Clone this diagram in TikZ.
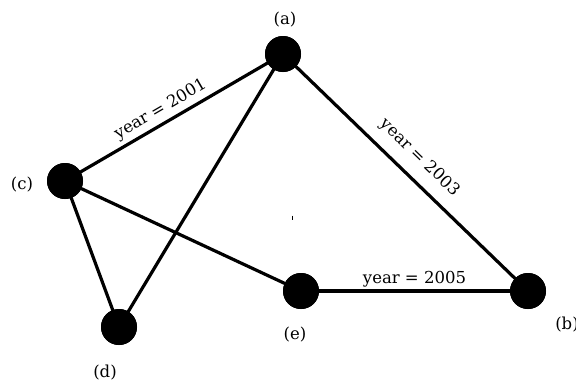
\documentclass[tikz,border=0pt]{standalone}
\usepackage{fontspec}
\setmainfont{DejaVu Serif}
\begin{document}
\begin{tikzpicture}[x=1pt,y=-1pt,
  vtx/.style={circle,fill=black,minimum size=36pt,inner sep=0pt},
  edge/.style={line width=3.2pt},
  lbl/.style={font=\fontsize{16.5}{19}\selectfont,inner sep=0pt},
  elbl/.style={font=\fontsize{16.5}{19}\selectfont,sloped,above}]
\useasboundingbox (0,0) rectangle (576,383);
\clip (0,0) rectangle (576,383);
\node[vtx] (a) at (283,54) {};
\node[vtx] (b) at (528,291) {};
\node[vtx] (c) at (65,181) {};
\node[vtx] (d) at (119,327) {};
\node[vtx] (e) at (301,291) {};
\draw[edge] (c.center) -- node[elbl,inner sep=4pt,pos=0.47] (l1) {year = 2001} (a.center);
\draw[edge] (a.center) -- node[elbl,inner sep=11pt] (l2) {year = 2003} (b.center);
\draw[edge] (a.center) -- (d.center);
\draw[edge] (c.center) -- (d.center);
\draw[edge] (c.center) -- (e.center);
\draw[edge] (e.center) -- node[elbl,inner sep=2pt] (l3) {year = 2005} (b.center);
\node[vtx] at (a) {};
\node[vtx] at (b) {};
\node[vtx] at (c) {};
\node[vtx] at (d) {};
\node[vtx] at (e) {};
\node[lbl] (la) at (285,20) {(a)};
\node[lbl] (lb) at (567,325) {(b)};
\node[lbl] (lc) at (22,185) {(c)};
\node[lbl] (ld) at (105,373) {(d)};
\node[lbl] (le) at (295,335) {(e)};
\coordinate (t1) at (292,215.5);
\coordinate (t2) at (292,220);
\draw[line width=1pt] (t1) -- (t2);
\end{tikzpicture}
\end{document}
